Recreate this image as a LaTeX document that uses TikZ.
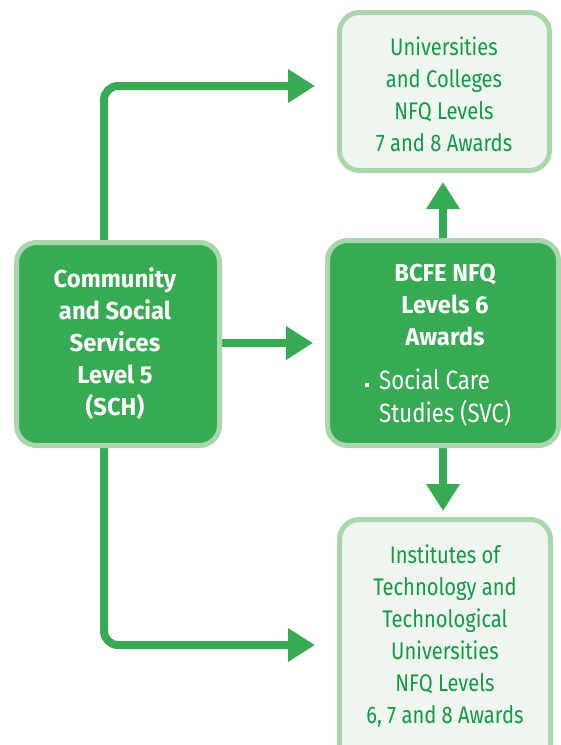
\documentclass[tikz,border=0pt]{standalone}
\usepackage{fontspec}
\setmainfont{Fira Sans}[FakeStretch=0.84, BoldFeatures={FakeStretch=0.97}]
\usetikzlibrary{arrows.meta}
\pgfdeclarelayer{background}
\pgfsetlayers{background,main}
\definecolor{dgreen}{HTML}{37AB53}
\definecolor{lborder}{HTML}{A9D6AA}
\definecolor{lfill}{HTML}{EFF6EF}
\definecolor{tgreen}{HTML}{139A48}
\begin{document}
\begin{tikzpicture}[x=1pt,y=-1pt,
  darkbox/.style={draw=lborder, line width=5pt, fill=dgreen, rounded corners=20pt, inner sep=0pt},
  lightbox/.style={draw=lborder, line width=5pt, fill=lfill, rounded corners=20pt, inner sep=0pt},
  wlabel/.style={text=white, font=\fontsize{24.5}{32}\selectfont\bfseries, align=center, inner sep=0pt},
  wlist/.style={text=white, font=\fontsize{26.5}{33}\selectfont, align=left, inner sep=0pt},
  glabel/.style={text=tgreen, font=\fontsize{24}{32}\selectfont, align=center, inner sep=0pt},
  bulletsq/.style={fill=white, minimum size=4pt, inner sep=0pt},
  conn/.style={draw=dgreen, line width=8pt, -{Triangle[length=27pt,width=32pt]}, rounded corners=14pt}]
\useasboundingbox (0,0) rectangle (561,745);
\clip (0,0) rectangle (561,745);
\node[darkbox, minimum width=203pt, minimum height=203pt] (L) at (118,344) {};
\node[darkbox, minimum width=231pt, minimum height=205pt] (C) at (443,343) {};
\node[lightbox, minimum width=210pt, minimum height=158pt] (T) at (444.5,91.5) {};
\node[lightbox, minimum width=211pt, minimum height=245pt] (B) at (445,642) {};
\node[wlabel] (Lt) at (115,344) {Community\\and Social\\Services\\Level 5\\(SCH)};
\node[wlabel] (Ct) at (445,305) {BCFE NFQ\\Levels 6\\Awards};
\node[wlist, anchor=west] (Cb) at (379,398) {Social Care\\Studies (SVC)};
\node[bulletsq] (bul) at (367,385) {};
\node[glabel] (Tt) at (444,94) {Universities\\and Colleges\\NFQ Levels\\7 and 8 Awards};
\node[glabel] (Bt) at (445,636) {Institutes of\\Technology and\\Technological\\Universities\\NFQ Levels\\6, 7 and 8 Awards};
\coordinate (tipT) at (315,86);
\coordinate (tipM) at (313,343);
\coordinate (tipU) at (443,182);
\coordinate (tipD) at (443,511);
\coordinate (tipB) at (315,645);
\begin{pgfonlayer}{background}
\draw[conn] ([xshift=-14pt]L.north) |- (tipT);
\draw[conn] (L.east |- tipM) -- (tipM);
\draw[conn] (C.north) -- (tipU);
\draw[conn] (C.south) -- (tipD);
\draw[conn] ([xshift=-14pt]L.south) |- (tipB);
\end{pgfonlayer}
\end{tikzpicture}
\end{document}
